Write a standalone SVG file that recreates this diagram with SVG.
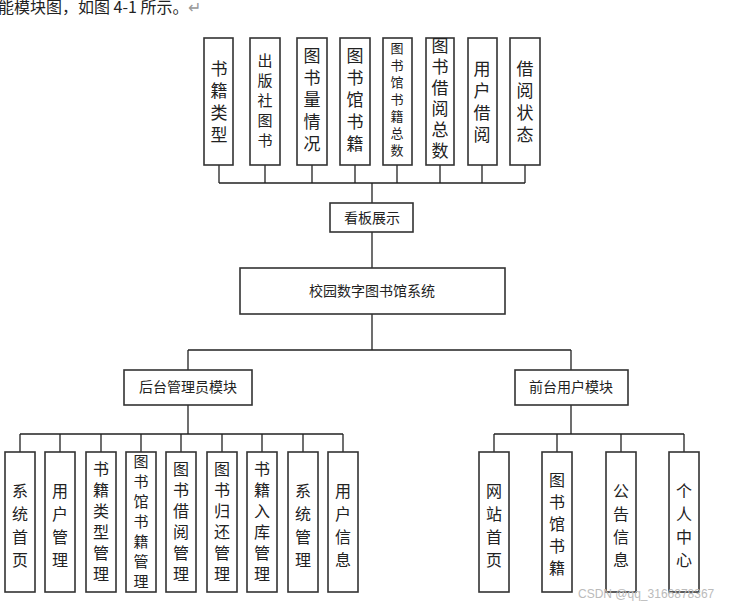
<svg xmlns="http://www.w3.org/2000/svg" width="735" height="607" viewBox="0 0 735 607">
<style>
.b{fill:#fff;stroke:#333;stroke-width:1.6}
.t{font-family:"Noto Sans CJK SC",sans-serif;fill:#222;text-anchor:middle}
.l{fill:none;stroke:#222;stroke-width:1.3}
</style>
<rect width="735" height="607" fill="#fff"/>
<text x="-2" y="13" style="font-family:'Noto Sans CJK SC',serif;font-size:16px;fill:#222">能模块图，如图 4-1 所示。<tspan fill="#999">↵</tspan></text>
<g id="connectors" class="l">
<path d="M219 165V183M265 165V183M312 165V183M355 165V183M397 165V183M440 165V183M482 165V183M525 165V183M219 183H525M372 183V203M372 232V268M372 314V350M188 350H571M188 350V370M571 350V370M188 405V434M20 434H343M20 434V452M60 434V452M101 434V452M141 434V452M181 434V452M222 434V452M262 434V452M303 434V452M343 434V452M571 405V434M494 434H684M494 434V452M557 434V452M621 434V452M684 434V452"/>
</g>
<g id="top1"><rect class="b" x="204" y="38" width="29" height="127"/><text class="t" x="219" style="font-size:17px"><tspan x="219" y="75">书</tspan><tspan x="219" y="97">籍</tspan><tspan x="219" y="119">类</tspan><tspan x="219" y="141">型</tspan></text></g>
<g id="top2"><rect class="b" x="250" y="38" width="30" height="127"/><text class="t" style="font-size:15px"><tspan x="265" y="66">出</tspan><tspan x="265" y="86">版</tspan><tspan x="265" y="106">社</tspan><tspan x="265" y="126">图</tspan><tspan x="265" y="146">书</tspan></text></g>
<g id="top3"><rect class="b" x="297" y="38" width="30" height="127"/><text class="t" style="font-size:17px"><tspan x="312" y="62">图</tspan><tspan x="312" y="84">书</tspan><tspan x="312" y="106">量</tspan><tspan x="312" y="128">情</tspan><tspan x="312" y="150">况</tspan></text></g>
<g id="top4"><rect class="b" x="340" y="38" width="30" height="127"/><text class="t" style="font-size:17px"><tspan x="355" y="62">图</tspan><tspan x="355" y="84">书</tspan><tspan x="355" y="106">馆</tspan><tspan x="355" y="128">书</tspan><tspan x="355" y="150">籍</tspan></text></g>
<g id="top5"><rect class="b" x="383" y="38" width="29" height="127"/><text class="t" style="font-size:13px"><tspan x="397" y="53">图</tspan><tspan x="397" y="70">书</tspan><tspan x="397" y="87">馆</tspan><tspan x="397" y="104">书</tspan><tspan x="397" y="121">籍</tspan><tspan x="397" y="138">总</tspan><tspan x="397" y="155">数</tspan></text></g>
<g id="top6"><rect class="b" x="426" y="38" width="28" height="127"/><text class="t" style="font-size:17px"><tspan x="440" y="52">图</tspan><tspan x="440" y="73">书</tspan><tspan x="440" y="94">借</tspan><tspan x="440" y="115">阅</tspan><tspan x="440" y="136">总</tspan><tspan x="440" y="157">数</tspan></text></g>
<g id="top7"><rect class="b" x="468" y="38" width="29" height="127"/><text class="t" style="font-size:17px"><tspan x="482" y="75">用</tspan><tspan x="482" y="97">户</tspan><tspan x="482" y="119">借</tspan><tspan x="482" y="141">阅</tspan></text></g>
<g id="top8"><rect class="b" x="510" y="38" width="30" height="127"/><text class="t" style="font-size:17px"><tspan x="525" y="75">借</tspan><tspan x="525" y="97">阅</tspan><tspan x="525" y="119">状</tspan><tspan x="525" y="141">态</tspan></text></g>
<g id="kanban"><rect class="b" x="330" y="203" width="83" height="29"/><text class="t" x="372" y="223" style="font-size:14px">看板展示</text></g>
<g id="main"><rect class="b" x="240" y="268" width="265" height="46"/><text class="t" x="372" y="296" style="font-size:14px">校园数字图书馆系统</text></g>
<g id="admin"><rect class="b" x="124" y="370" width="128" height="35"/><text class="t" x="188" y="392" style="font-size:14px">后台管理员模块</text></g>
<g id="user"><rect class="b" x="515" y="370" width="113" height="35"/><text class="t" x="571" y="392" style="font-size:14px">前台用户模块</text></g>
<g id="a1"><rect class="b" x="5" y="452" width="30" height="140"/><text class="t" style="font-size:16px"><tspan x="20" y="497">系</tspan><tspan x="20" y="520">统</tspan><tspan x="20" y="543">首</tspan><tspan x="20" y="566">页</tspan></text></g>
<g id="a2"><rect class="b" x="45" y="452" width="30" height="140"/><text class="t" style="font-size:16px"><tspan x="60" y="497">用</tspan><tspan x="60" y="520">户</tspan><tspan x="60" y="543">管</tspan><tspan x="60" y="566">理</tspan></text></g>
<g id="a3"><rect class="b" x="86" y="452" width="30" height="140"/><text class="t" style="font-size:16px"><tspan x="101" y="475">书</tspan><tspan x="101" y="496">籍</tspan><tspan x="101" y="517">类</tspan><tspan x="101" y="538">型</tspan><tspan x="101" y="559">管</tspan><tspan x="101" y="580">理</tspan></text></g>
<g id="a4"><rect class="b" x="126" y="452" width="30" height="140"/><text class="t" style="font-size:15px"><tspan x="141" y="467">图</tspan><tspan x="141" y="487">书</tspan><tspan x="141" y="507">馆</tspan><tspan x="141" y="527">书</tspan><tspan x="141" y="547">籍</tspan><tspan x="141" y="567">管</tspan><tspan x="141" y="587">理</tspan></text></g>
<g id="a5"><rect class="b" x="166" y="452" width="30" height="140"/><text class="t" style="font-size:16px"><tspan x="181" y="475">图</tspan><tspan x="181" y="496">书</tspan><tspan x="181" y="517">借</tspan><tspan x="181" y="538">阅</tspan><tspan x="181" y="559">管</tspan><tspan x="181" y="580">理</tspan></text></g>
<g id="a6"><rect class="b" x="207" y="452" width="30" height="140"/><text class="t" style="font-size:16px"><tspan x="222" y="475">图</tspan><tspan x="222" y="496">书</tspan><tspan x="222" y="517">归</tspan><tspan x="222" y="538">还</tspan><tspan x="222" y="559">管</tspan><tspan x="222" y="580">理</tspan></text></g>
<g id="a7"><rect class="b" x="247" y="452" width="30" height="140"/><text class="t" style="font-size:16px"><tspan x="262" y="475">书</tspan><tspan x="262" y="496">籍</tspan><tspan x="262" y="517">入</tspan><tspan x="262" y="538">库</tspan><tspan x="262" y="559">管</tspan><tspan x="262" y="580">理</tspan></text></g>
<g id="a8"><rect class="b" x="288" y="452" width="30" height="140"/><text class="t" style="font-size:16px"><tspan x="303" y="497">系</tspan><tspan x="303" y="520">统</tspan><tspan x="303" y="543">管</tspan><tspan x="303" y="566">理</tspan></text></g>
<g id="a9"><rect class="b" x="328" y="452" width="30" height="140"/><text class="t" style="font-size:16px"><tspan x="343" y="497">用</tspan><tspan x="343" y="520">户</tspan><tspan x="343" y="543">信</tspan><tspan x="343" y="566">息</tspan></text></g>
<g id="u1"><rect class="b" x="479" y="452" width="30" height="140"/><text class="t" style="font-size:16px"><tspan x="494" y="497">网</tspan><tspan x="494" y="520">站</tspan><tspan x="494" y="543">首</tspan><tspan x="494" y="566">页</tspan></text></g>
<g id="u2"><rect class="b" x="542" y="452" width="30" height="140"/><text class="t" style="font-size:16px"><tspan x="557" y="486">图</tspan><tspan x="557" y="508">书</tspan><tspan x="557" y="530">馆</tspan><tspan x="557" y="552">书</tspan><tspan x="557" y="574">籍</tspan></text></g>
<g id="u3"><rect class="b" x="606" y="452" width="30" height="140"/><text class="t" style="font-size:16px"><tspan x="621" y="497">公</tspan><tspan x="621" y="520">告</tspan><tspan x="621" y="543">信</tspan><tspan x="621" y="566">息</tspan></text></g>
<g id="u4"><rect class="b" x="669" y="452" width="30" height="140"/><text class="t" style="font-size:16px"><tspan x="684" y="497">个</tspan><tspan x="684" y="520">人</tspan><tspan x="684" y="543">中</tspan><tspan x="684" y="566">心</tspan></text></g>
<text x="578" y="598" style="font-family:'Liberation Sans',sans-serif;font-size:12px;fill:#bbb">CSDN @qq_3166878367</text>
</svg>
